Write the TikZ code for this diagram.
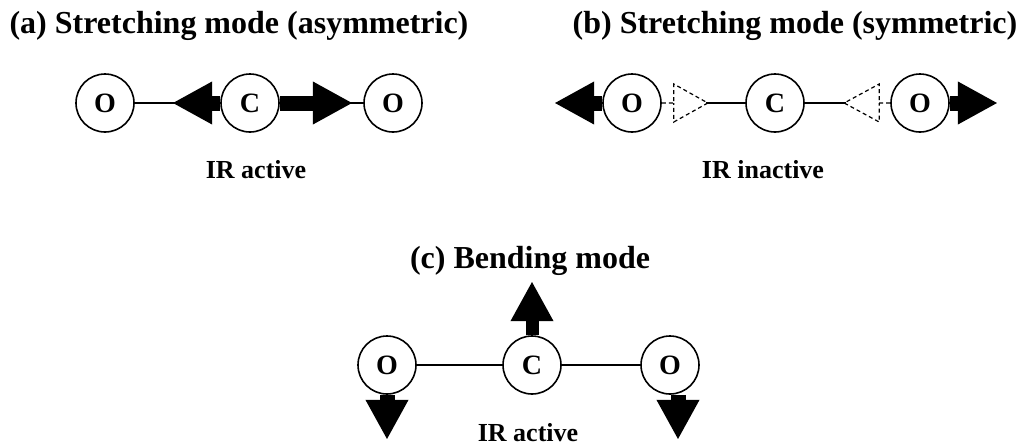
\documentclass[tikz,border=0pt]{standalone}
\usepackage{fontspec}
\setmainfont{Liberation Serif}
\usetikzlibrary{arrows.meta}
\tikzset{
	atom/.style={circle, draw, line width=1.6pt, fill=white, minimum size=58pt, inner sep=0pt, font=\fontsize{28}{30}\selectfont\bfseries},
	bond/.style={line width=1.8pt},
	ghost/.style={line width=1.2pt, dash pattern=on 4pt off 3pt},
	push/.style={line width=15pt, -{Triangle[length=40pt,width=40pt]}},
	modetitle/.style={anchor=base, inner sep=0pt, font=\fontsize{32}{36}\selectfont\bfseries},
	irlabel/.style={anchor=base, inner sep=0pt, font=\fontsize{26}{30}\selectfont\bfseries}
}

\begin{document}
\begin{tikzpicture}[x=1pt, y=-1pt]
	\useasboundingbox (0,0) rectangle (1021,445);
	% (a) asymmetric stretch
	\node[modetitle] (ta) at (239,33) {(a) Stretching mode (asymmetric)};
	\node[atom] (oa1) at (105,103) {O};
	\node[atom] (ca) at (250,103) {C};
	\node[atom] (oa2) at (393,103) {O};
	\draw[bond] (oa1) -- (ca);
	\draw[bond] (ca) -- (oa2);
	\draw[push] (ca.west) -- ++(-48,0);
	\draw[push] (ca.east) -- ++(73,0);
	\node[irlabel] (la) at (256,178) {IR active};
	% (b) symmetric stretch
	\node[modetitle] (tb) at (795,33) {(b) Stretching mode (symmetric)};
	\node[atom] (ob1) at (632,103) {O};
	\node[atom] (cb) at (775,103) {C};
	\node[atom] (ob2) at (920,103) {O};
	\draw[ghost] (ob1.east) -- ++(12,0) -- ++(0,-19) -- ++(34,19) -- ++(-34,19) -- ++(0,-19);
	\draw[bond] (cb.west) -- ++(-39,0);
	\draw[ghost] (ob2.west) -- ++(-11,0) -- ++(0,-19) -- ++(-35,19) -- ++(35,19) -- ++(0,-19);
	\draw[bond] (cb.east) -- ++(41,0);
	\draw[push] (ob1.west) -- ++(-48,0);
	\draw[push] (ob2.east) -- ++(48,0);
	\node[irlabel] (lb) at (763,178) {IR inactive};
	% (c) bending
	\node[modetitle] (tc) at (530,268) {(c) Bending mode};
	\node[atom] (oc1) at (387,365) {O};
	\node[atom] (cc) at (532,365) {C};
	\node[atom] (oc2) at (670,365) {O};
	\draw[bond] (oc1) -- (cc);
	\draw[bond] (cc) -- (oc2);
	\draw[push, line width=13pt] (cc.north) -- ++(0,-54);
	\draw[push] (oc1.south) -- ++(0,45);
	\draw[push] ([xshift=8pt]oc2.south) -- ++(0,45);
	\node[irlabel] (lc) at (528,441) {IR active};
\end{tikzpicture}
\end{document}
